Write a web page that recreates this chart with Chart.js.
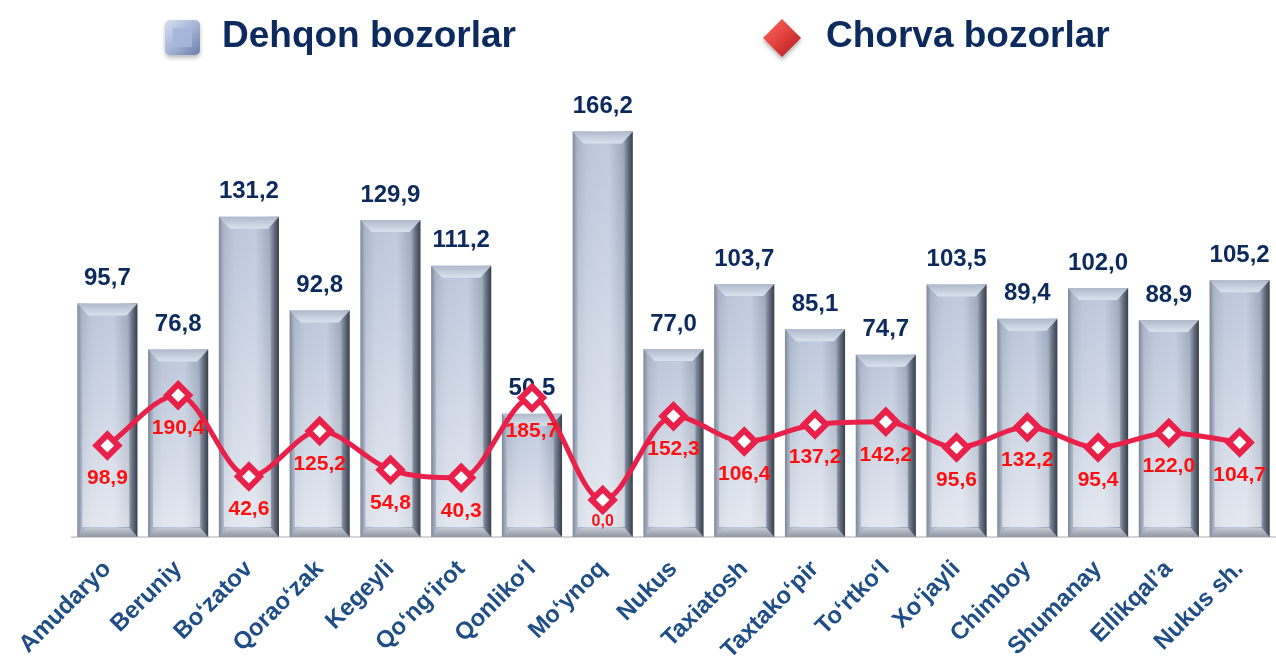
<!DOCTYPE html>
<html>
<head>
<meta charset="utf-8">
<script src="https://cdn.jsdelivr.net/npm/chart.js@4.4.1/dist/chart.umd.min.js"></script>
<style>
  html, body { margin: 0; padding: 0; background: #fff; }
  #wrap { width: 1276px; height: 663px; }
</style>
</head>
<body>
<div id="wrap"><canvas id="chart" width="1276" height="663"></canvas></div>
<script>
const districts = ['Amudaryo', 'Beruniy', 'Bo‘zatov', 'Qorao‘zak', 'Kegeyli', 'Qo‘ng‘irot', 'Qonliko‘l', 'Mo‘ynoq', 'Nukus',
  'Taxiatosh', 'Taxtako‘pir', 'To‘rtko‘l', 'Xo‘jayli', 'Chimboy', 'Shumanay', 'Ellikqal’a', 'Nukus sh.'];
const dehqonValues = [95.7, 76.8, 131.2, 92.8, 129.9, 111.2, 50.5, 166.2, 77.0, 103.7, 85.1, 74.7, 103.5, 89.4, 102.0, 88.9, 105.2];
const chorvaValues = [98.9, 190.4, 42.6, 125.2, 54.8, 40.3, 185.7, 0.0, 152.3, 106.4, 137.2, 142.2, 95.6, 132.2, 95.4, 122.0, 104.7];
const seriesNames = ['Dehqon bozorlar', 'Chorva bozorlar'];

const FONT = '"Liberation Sans", Arial, sans-serif';
const NAVY = '#0d2a5e';
const LINE_RED = '#e8204a';

function fmt(v) {
  return v.toFixed(1).replace('.', ',');
}

// horizontal shading across each bar
function barFill(context) {
  const chart = context.chart;
  const xs = chart.scales.x;
  if (!chart.chartArea || !xs || context.dataIndex === undefined) return '#b8c3d6';
  const cx = xs.getPixelForValue(context.dataIndex);
  const half = xs.width / districts.length * 0.85 / 2;
  const g = chart.ctx.createLinearGradient(cx - half, 0, cx + half, 0);
  g.addColorStop(0, '#7c8596');
  g.addColorStop(0.07, '#a8b3c6');
  g.addColorStop(0.25, '#bac5d9');
  g.addColorStop(0.6, '#c0cade');
  g.addColorStop(0.84, '#9ca8bd');
  g.addColorStop(0.93, '#5f6878');
  g.addColorStop(1, '#383f4b');
  return g;
}

const barDecor = {
  id: 'barDecor',
  afterDatasetDraw(chart, args) {
    if (args.index !== 0) return;
    const ctx = chart.ctx;
    const meta = chart.getDatasetMeta(0);
    ctx.save();
    meta.data.forEach((bar, i) => {
      const l = bar.x - bar.width / 2, r = bar.x + bar.width / 2;
      const t = bar.y, b = bar.base;
      // lighter towards the bottom
      const vg = ctx.createLinearGradient(0, t, 0, b);
      vg.addColorStop(0, 'rgba(255,255,255,0)');
      vg.addColorStop(1, 'rgba(255,255,255,0.6)');
      ctx.fillStyle = vg;
      ctx.fillRect(l + 5, t + 12, bar.width - 13, b - t - 22);
      // top bevel
      ctx.beginPath();
      ctx.moveTo(l, t);
      ctx.lineTo(r, t);
      ctx.lineTo(r - 11, t + 12);
      ctx.lineTo(l + 11, t + 12);
      ctx.closePath();
      const tg = ctx.createLinearGradient(0, t, 0, t + 12);
      tg.addColorStop(0, '#aeb9cb');
      tg.addColorStop(1, '#dbe2ee');
      ctx.fillStyle = tg;
      ctx.fill();
      // bottom bevel
      ctx.beginPath();
      ctx.moveTo(l, b);
      ctx.lineTo(r, b);
      ctx.lineTo(r - 8, b - 9);
      ctx.lineTo(l + 8, b - 9);
      ctx.closePath();
      const bg = ctx.createLinearGradient(0, b - 9, 0, b);
      bg.addColorStop(0, '#c4c9d2');
      bg.addColorStop(1, '#8f96a2');
      ctx.fillStyle = bg;
      ctx.fill();
      // value label
      ctx.fillStyle = NAVY;
      ctx.font = 'bold 24px ' + FONT;
      ctx.textAlign = 'center';
      ctx.textBaseline = 'middle';
      ctx.fillText(fmt(dehqonValues[i]), bar.x, t - 25);
    });
    ctx.restore();
  },
  afterDatasetsDraw(chart) {
    const ctx = chart.ctx;
    const meta = chart.getDatasetMeta(1);
    ctx.save();
    ctx.fillStyle = '#ff1010';
    ctx.textAlign = 'center';
    ctx.textBaseline = 'middle';
    meta.data.forEach((pt, i) => {
      const v = chorvaValues[i];
      ctx.font = (v === 0 ? 'bold 16px ' : 'bold 21px ') + FONT;
      ctx.fillText(fmt(v), pt.x, pt.y + (v === 0 ? 22 : 33));
    });
    ctx.restore();
  },
  afterDraw(chart) {
    const ctx = chart.ctx;
    ctx.save();
    // bar legend marker
    const sx = 165, sy = 20, s = 35;
    ctx.shadowColor = 'rgba(0,0,0,0.25)';
    ctx.shadowBlur = 4;
    ctx.shadowOffsetY = 3;
    const sg = ctx.createLinearGradient(sx, sy, sx + s, sy + s);
    sg.addColorStop(0, '#d7e0f2');
    sg.addColorStop(0.5, '#a6b5d6');
    sg.addColorStop(1, '#6c7ea8');
    ctx.fillStyle = sg;
    ctx.beginPath();
    ctx.roundRect(sx, sy, s, s, 5);
    ctx.fill();
    ctx.shadowColor = 'transparent';
    ctx.fillStyle = 'rgba(165,182,218,0.9)';
    ctx.fillRect(sx + 8, sy + 8, s - 16, s - 16);
    // line legend marker
    const dx = 782, dy = 38, d = 19;
    ctx.shadowColor = 'rgba(0,0,0,0.3)';
    ctx.shadowBlur = 4;
    ctx.shadowOffsetY = 3;
    const dg = ctx.createLinearGradient(dx - d, dy - d, dx + d, dy + d);
    dg.addColorStop(0, '#f86a62');
    dg.addColorStop(0.5, '#e0413c');
    dg.addColorStop(1, '#a8161a');
    ctx.fillStyle = dg;
    ctx.beginPath();
    ctx.moveTo(dx, dy - d);
    ctx.lineTo(dx + d, dy);
    ctx.lineTo(dx, dy + d);
    ctx.lineTo(dx - d, dy);
    ctx.closePath();
    ctx.fill();
    ctx.shadowColor = 'transparent';
    // legend texts
    ctx.fillStyle = NAVY;
    ctx.font = 'bold 37px ' + FONT;
    ctx.textAlign = 'left';
    ctx.textBaseline = 'middle';
    ctx.fillText(seriesNames[0], 222, 37);
    ctx.fillText(seriesNames[1], 826, 37);
    ctx.restore();
  }
};

new Chart(document.getElementById('chart'), {
  data: {
    labels: districts,
    datasets: [{
      type: 'bar',
      label: seriesNames[0],
      data: dehqonValues,
      backgroundColor: barFill,
      borderWidth: 0,
      barPercentage: 0.85,
      categoryPercentage: 1,
      yAxisID: 'y',
      order: 1
    }, {
      type: 'line',
      label: seriesNames[1],
      data: chorvaValues,
      borderColor: LINE_RED,
      borderWidth: 5,
      cubicInterpolationMode: 'monotone',
      pointStyle: 'rectRot',
      pointRadius: 11,
      pointBackgroundColor: '#fff',
      pointBorderColor: LINE_RED,
      pointBorderWidth: 6,
      yAxisID: 'y1',
      order: 0
    }]
  },
  options: {
    responsive: false,
    animation: false,
    devicePixelRatio: 1,
    layout: { autoPadding: false, padding: { left: 72, right: 1, top: 110, bottom: 0 } },
    plugins: {
      legend: { display: false },
      tooltip: { enabled: false }
    },
    scales: {
      x: {
        grid: { display: false },
        border: { color: '#d6d6d6', width: 2 },
        ticks: {
          color: '#1f4e87',
          font: { family: FONT, size: 24, weight: 'bold' },
          minRotation: 45,
          maxRotation: 45,
          padding: 10,
          autoSkip: false
        },
        afterFit: scale => {
          scale.height = 126;
          scale.paddingLeft = 0;
          scale.paddingRight = 0;
        }
      },
      y: { display: false, min: 0, max: 175 },
      y1: { display: false, min: -67.3, max: 709 }
    }
  },
  plugins: [barDecor]
});
</script>
</body>
</html>
